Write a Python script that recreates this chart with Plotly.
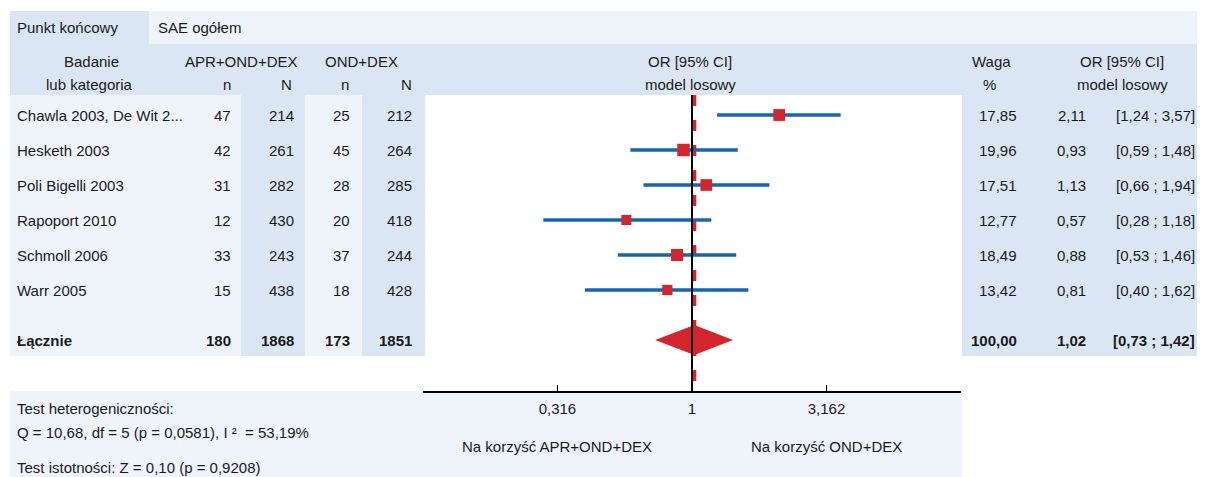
import math
import plotly.graph_objects as go

# ---------------- data ----------------
endpoint_label = "Punkt końcowy"
endpoint_value = "SAE ogółem"
studies = ["Chawla 2003, De Wit 2...", "Hesketh 2003", "Poli Bigelli 2003",
           "Rapoport 2010", "Schmoll 2006", "Warr 2005"]
n_apr = [47, 42, 31, 12, 33, 15]
N_apr = [214, 261, 282, 430, 243, 438]
n_ond = [25, 45, 28, 20, 37, 18]
N_ond = [212, 264, 285, 418, 244, 428]
weights = [17.85, 19.96, 17.51, 12.77, 18.49, 13.42]
or_vals = [2.11, 0.93, 1.13, 0.57, 0.88, 0.81]
ci_low = [1.24, 0.59, 0.66, 0.28, 0.53, 0.40]
ci_high = [3.57, 1.48, 1.94, 1.18, 1.46, 1.62]

total_label = "Łącznie"
total_n_apr, total_N_apr = 180, 1868
total_n_ond, total_N_ond = 173, 1851
total_weight = 100.00
pooled_or, pooled_low, pooled_high = 1.02, 0.73, 1.42

tick_vals = [0.316, 1, 3.162]
tick_text = ["0,316", "1", "3,162"]
favours_left = "Na korzyść APR+OND+DEX"
favours_right = "Na korzyść OND+DEX"
het_title = "Test heterogeniczności:"
het_text = "Q = 10,68, df = 5 (p = 0,0581), I ²  = 53,19%"
sig_text = "Test istotności: Z = 0,10 (p = 0,9208)"

# ---------------- layout helpers ----------------
W, H = 1205, 477
OFF = 8  # page body margin in the browser
ROW0_PX, ROW_H, SUMMARY_PX = 115, 35, 340
LIGHT = "#eef4fa"
DARK = "#dae6f3"
BLUE = "#1565b0"
RED = "#d3262c"
TXT = "#1a1a1a"
FONT = "Liberation Sans, Arial, sans-serif"
FS = 15


def px_x(px):
    return (px - OFF) / W


def px_y(px):
    return 1 - (px - OFF) / H


def ry(px):
    return (px - ROW0_PX) / ROW_H


def fmt(v, d=2):
    return f"{v:.{d}f}".replace(".", ",")


rows = list(range(len(studies)))
summary_row = ry(SUMMARY_PX)

fig = go.Figure()

# vertical dashed line at pooled OR
fig.add_trace(go.Scatter(x=[pooled_or, pooled_or], y=[ry(95), ry(392)], mode="lines",
                         line=dict(color=RED, width=4, dash="11px,14px"),
                         hoverinfo="skip", showlegend=False))

# CI lines
cx, cy = [], []
for lo, hi, r in zip(ci_low, ci_high, rows):
    cx += [lo, hi, None]
    cy += [r, r, None]
fig.add_trace(go.Scatter(x=cx, y=cy, mode="lines", line=dict(color=BLUE, width=3.5),
                         hoverinfo="skip", showlegend=False))

# squares
sizes = [12.5 * (w / max(weights)) ** 0.5 for w in weights]
fig.add_trace(go.Scatter(x=or_vals, y=rows, mode="markers",
                         marker=dict(symbol="square", size=sizes, color=RED, opacity=1,
                                     line=dict(width=0)),
                         hoverinfo="skip", showlegend=False))

# diamond
dh = 15 / ROW_H
fig.add_trace(go.Scatter(x=[pooled_low, pooled_or, pooled_high, pooled_or, pooled_low],
                         y=[summary_row, summary_row - dh, summary_row, summary_row + dh, summary_row],
                         mode="lines", fill="toself", fillcolor=RED, line=dict(width=0, color=RED),
                         hoverinfo="skip", showlegend=False))

# line of no effect
fig.add_trace(go.Scatter(x=[1, 1], y=[ry(95), ry(392)], mode="lines",
                         line=dict(color="black", width=2),
                         hoverinfo="skip", showlegend=False))

# ---------------- background boxes ----------------
shapes = []


def rect(x0, y0, x1, y1, color):
    shapes.append(dict(type="rect", xref="paper", yref="paper",
                       x0=px_x(x0), x1=px_x(x1), y0=px_y(y1), y1=px_y(y0),
                       fillcolor=color, line=dict(width=0), layer="below"))


rect(10, 11, 149, 44, DARK)
rect(149, 11, 1215, 44, LIGHT)
rect(10, 44, 1215, 95, DARK)
rect(10, 95, 241, 356, LIGHT)
rect(241, 95, 305, 356, DARK)
rect(305, 95, 362, 356, LIGHT)
rect(362, 95, 425, 356, DARK)
rect(962, 95, 1215, 356, DARK)
rect(10, 391, 962, 490, LIGHT)

# ---------------- text ----------------
ann = []


def txt(x, y, s, anchor="left", bold=False, yref="paper"):
    yy = px_y(y) if yref == "paper" else y
    ann.append(dict(x=px_x(x), y=yy, xref="paper", yref=yref, text=f"<b>{s}</b>" if bold else s,
                    showarrow=False, xanchor=anchor, yanchor="middle",
                    font=dict(family=FONT, size=FS, color=TXT)))


txt(15, 28, endpoint_label)
txt(156, 28, endpoint_value)
txt(91, 61, "Badanie", "center")
txt(89, 84, "lub kategoria", "center")
txt(241, 61, "APR+OND+DEX", "center")
txt(361, 61, "OND+DEX", "center")
for xr, s in [(233, "n"), (294, "N"), (351, "n"), (414, "N")]:
    txt(xr, 84, s, "right")
txt(690, 61, "OR [95% CI]", "center")
txt(690, 84, "model losowy", "center")
txt(991, 61, "Waga", "center")
txt(989, 84, "%", "center")
txt(1122, 61, "OR [95% CI]", "center")
txt(1122, 84, "model losowy", "center")

for i, r in enumerate(rows):
    txt(15, r, studies[i], "left", yref="y")
    txt(233, r, str(n_apr[i]), "right", yref="y")
    txt(296, r, str(N_apr[i]), "right", yref="y")
    txt(352, r, str(n_ond[i]), "right", yref="y")
    txt(414, r, str(N_ond[i]), "right", yref="y")
    txt(1019, r, fmt(weights[i]), "right", yref="y")
    txt(1088, r, fmt(or_vals[i]), "right", yref="y")
    txt(1197, r, f"[{fmt(ci_low[i])} ; {fmt(ci_high[i])}]", "right", yref="y")

txt(15, summary_row, total_label, "left", True, yref="y")
txt(233, summary_row, str(total_n_apr), "right", True, yref="y")
txt(296, summary_row, str(total_N_apr), "right", True, yref="y")
txt(352, summary_row, str(total_n_ond), "right", True, yref="y")
txt(414, summary_row, str(total_N_ond), "right", True, yref="y")
txt(1019, summary_row, fmt(total_weight), "right", True, yref="y")
txt(1088, summary_row, fmt(pooled_or), "right", True, yref="y")
txt(1197, summary_row, f"[{fmt(pooled_low)} ; {fmt(pooled_high)}]", "right", True, yref="y")

txt(15, 408, het_title)
txt(15, 432, het_text)
txt(15, 467, sig_text)

# favours labels centred under outer ticks (log-axis annotation coords are log10)
for val, s in [(tick_vals[0], favours_left), (tick_vals[-1], favours_right)]:
    ann.append(dict(x=math.log10(val), y=px_y(446), xref="x", yref="paper", text=s,
                    showarrow=False, xanchor="center", yanchor="middle",
                    font=dict(family=FONT, size=FS, color=TXT)))

fig.update_layout(
    width=W, height=H, margin=dict(l=0, r=0, t=0, b=0),
    paper_bgcolor="white", plot_bgcolor="rgba(0,0,0,0)",
    shapes=shapes, annotations=ann, showlegend=False,
    xaxis=dict(type="log", range=[-1, 1], domain=[px_x(423), px_x(961)],
               anchor="free", position=px_y(392),
               showline=True, linecolor="black", linewidth=1.5,
               ticks="inside", ticklen=6, tickwidth=1, tickcolor="black",
               tickvals=tick_vals, ticktext=tick_text, ticklabelstandoff=3,
               tickfont=dict(family=FONT, size=FS, color=TXT),
               showgrid=False, zeroline=False, fixedrange=True),
    yaxis=dict(range=[ry(OFF + H), ry(OFF)], domain=[0, 1], visible=False, fixedrange=True),
)

fig.write_html("out.html")
